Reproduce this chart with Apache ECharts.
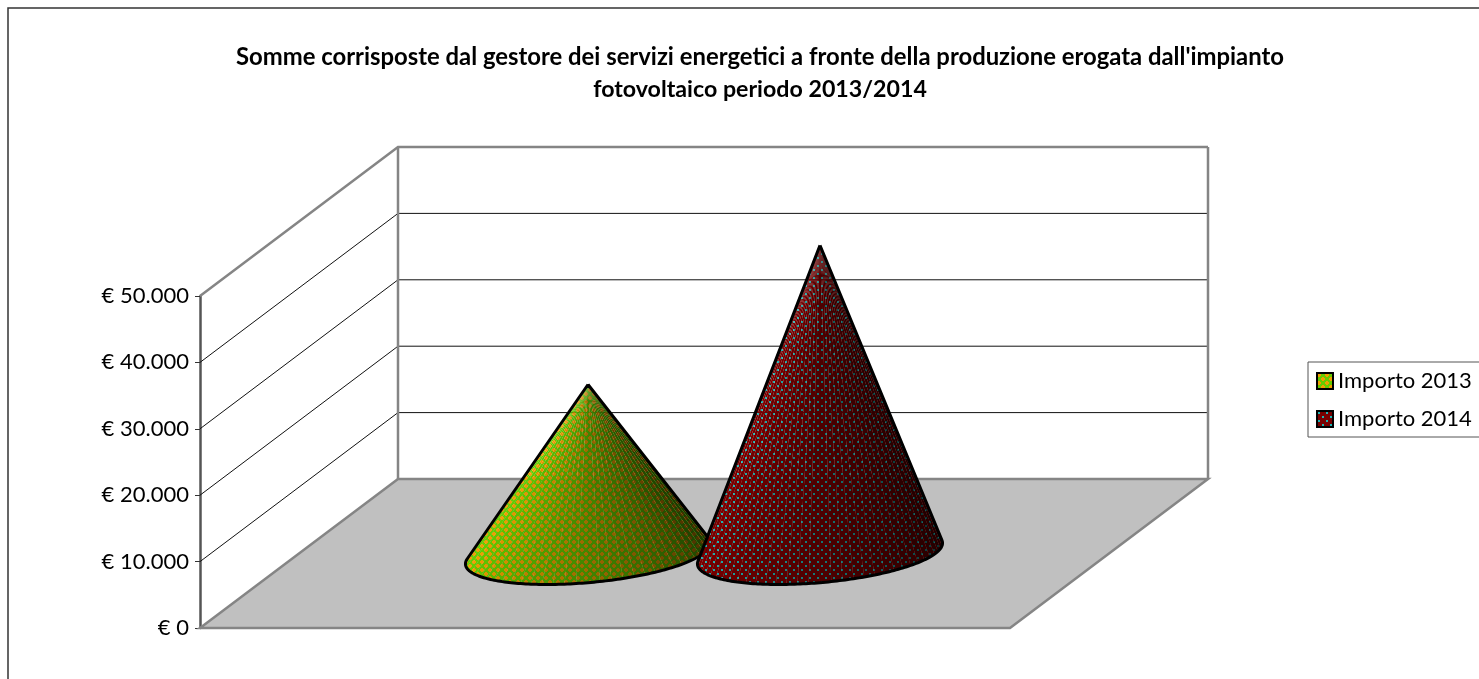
<!DOCTYPE html>
<html>
<head>
<meta charset="utf-8">
<title>Somme corrisposte</title>
<script src="https://cdn.jsdelivr.net/npm/echarts@6/dist/echarts.min.js"></script>
<style>
  html, body { margin: 0; padding: 0; background: #fff; overflow: hidden; }
  #main { width: 1479px; height: 679px; }
</style>
</head>
<body>
<div id="main"></div>
<script>
var titleLines = ["Somme corrisposte dal gestore dei servizi energetici a fronte della produzione erogata dall'impianto", "fotovoltaico periodo 2013/2014"];
var categories = ['Importo'];
var yTicks = [0, 10000, 20000, 30000, 40000, 50000];
var importo2013 = [25450];
var importo2014 = [46400];

var fontName = 'Lato';
// oblique depth of the 3D box, in pixels
var depthX = 198;
var depthY = -149;

function makeTile(bg, fg, kind) {
  var c = document.createElement('canvas');
  c.width = 8;
  c.height = 8;
  var ctx = c.getContext('2d');
  ctx.fillStyle = bg;
  ctx.fillRect(0, 0, 8, 8);
  ctx.fillStyle = fg;
  var spots = [[2, 2], [6, 6]];
  for (var i = 0; i < spots.length; i++) {
    var x = spots[i][0], y = spots[i][1];
    if (kind === 'plus') {
      ctx.fillRect(x - 1, y - 2, 2, 4);
      ctx.fillRect(x - 2, y - 1, 4, 2);
    } else {
      ctx.fillRect(x - 1, y - 1, 2, 2);
    }
  }
  return c;
}
var pattern2013 = { image: makeTile('#66cc00', '#f0a000', 'plus'), repeat: 'repeat' };
var pattern2014 = { image: makeTile('#780000', '#1fb4b4', 'dot'), repeat: 'repeat' };

function renderWalls(params, api) {
  var v = api.value(0);
  var left = api.coord([0, v]);
  var size = api.size([1, 0]);
  var x0 = left[0] - size[0] / 2;
  var y = left[1];
  var children = [];
  var top = v === yTicks[yTicks.length - 1];
  var wallLine = top ? { stroke: '#858585', lineWidth: 2.5 } : { stroke: '#111', lineWidth: 1 };
  if (v === 0) {
    children.push({
      type: 'polygon',
      shape: { points: [[x0, y], [x0 + size[0], y], [x0 + size[0] + depthX, y + depthY], [x0 + depthX, y + depthY]] },
      style: { fill: '#c0c0c0', stroke: '#858585', lineWidth: 2.5 }
    });
  } else {
    children.push({
      type: 'polyline',
      shape: { points: [[x0, y], [x0 + depthX, y + depthY], [x0 + depthX + size[0], y + depthY]] },
      style: { fill: null, stroke: wallLine.stroke, lineWidth: wallLine.lineWidth }
    });
  }
  if (top) {
    var floorY = api.coord([0, 0])[1] + depthY;
    children.push({
      type: 'line',
      shape: { x1: x0 + depthX, y1: y + depthY, x2: x0 + depthX, y2: floorY },
      style: { stroke: '#858585', lineWidth: 2.5 }
    });
    children.push({
      type: 'line',
      shape: { x1: x0 + depthX + size[0], y1: y + depthY, x2: x0 + depthX + size[0], y2: floorY },
      style: { stroke: '#858585', lineWidth: 2.5 }
    });
  }
  return { type: 'group', children: children };
}

function coneRenderer(slot, pattern, maxShade) {
  return function (params, api) {
    var v = api.value(1);
    var band = api.size([1, 0])[0];
    var base = api.coord([0, 0]);
    var peak = api.coord([0, v]);
    // the cones stand half way into the depth of the box
    var cx = base[0] + depthX / 2 + slot * band * 0.1432;
    var cy = base[1] + depthY / 2;
    var ax = cx;
    var ay = peak[1] + depthY / 2;
    var rx = band * 0.1425;
    var rd = 0.208;

    function rim(t) {
      return [cx + rx * Math.cos(t) + rd * depthX * Math.sin(t), cy + rd * depthY * Math.sin(t)];
    }

    // find the two tangent points seen from the apex
    var tL = 0, tR = 0, minA = 9, maxA = -9;
    for (var i = 0; i <= 1440; i++) {
      var t = -1.5 * Math.PI + i / 1440 * 2 * Math.PI;
      var p = rim(t);
      var a = Math.atan2(p[0] - ax, p[1] - ay);
      if (a < minA) { minA = a; tL = t; }
      if (a > maxA) { maxA = a; tR = t; }
    }
    if (tL > tR) { tL -= 2 * Math.PI; }

    var children = [];
    var steps = 36;
    var arc = [];
    for (var s = 0; s <= steps * 4; s++) {
      arc.push(rim(tL + (tR - tL) * s / (steps * 4)));
    }
    for (var k = 0; k < steps; k++) {
      var pts = [[ax, ay]];
      for (var j = 0; j <= 4; j++) {
        pts.push(arc[k * 4 + j]);
      }
      var f = (k + 0.5) / steps;
      var shade = f < 0.12 ? 0 : maxShade * (f - 0.12) / 0.88;
      children.push({ type: 'polygon', shape: { points: pts }, style: { fill: pattern } });
      children.push({ type: 'polygon', shape: { points: pts }, style: { fill: 'rgba(0,0,0,' + shade.toFixed(3) + ')' } });
    }
    var closed = [[ax, ay]].concat(arc).concat([[ax, ay]]);
    children.push({
      type: 'polyline',
      shape: { points: closed },
      style: { fill: null, stroke: '#000', lineWidth: 3, lineJoin: 'round' }
    });
    return { type: 'group', children: children };
  };
}

var chart = echarts.init(document.getElementById('main'), null, { renderer: 'canvas' });

var option = {
  animation: false,
  backgroundColor: '#fff',
  title: [
    { text: titleLines[0], left: 755, top: 40, textAlign: 'center',
      textStyle: { fontFamily: fontName, fontSize: 23.85, fontWeight: 'bold', color: '#000' } },
    { text: titleLines[1], left: 755, top: 73, textAlign: 'center',
      textStyle: { fontFamily: fontName, fontSize: 23.2, fontWeight: 'bold', color: '#000' } }
  ],
  graphic: [{
    type: 'rect',
    silent: true,
    shape: { x: 8, y: 8, width: 1600, height: 900 },
    style: { fill: null, stroke: '#333', lineWidth: 1.5 }
  }],
  legend: {
    orient: 'vertical',
    left: 1308,
    top: 362,
    padding: [8, 14, 7, 8],
    itemWidth: 16,
    itemHeight: 16,
    itemGap: 16,
    borderColor: '#555',
    borderWidth: 1,
    selectedMode: false,
    textStyle: { fontFamily: fontName, fontSize: 22, color: '#000' },
    data: [
      { name: 'Importo 2013', icon: 'rect', itemStyle: { color: pattern2013, borderColor: '#000', borderWidth: 2 } },
      { name: 'Importo 2014', icon: 'rect', itemStyle: { color: pattern2014, borderColor: '#000', borderWidth: 2 } }
    ]
  },
  grid: { left: 200, top: 296, width: 810, height: 332, containLabel: false },
  xAxis: {
    type: 'category',
    data: categories,
    axisLine: { show: false },
    axisTick: { show: false },
    axisLabel: { show: false }
  },
  yAxis: {
    type: 'value',
    min: 0,
    max: 50000,
    interval: 10000,
    splitLine: { show: false },
    axisLine: { show: true, onZero: false, lineStyle: { color: '#555', width: 2.5 } },
    axisTick: { show: true, length: 5, lineStyle: { color: '#333', width: 1 } },
    axisLabel: {
      margin: 11,
      fontFamily: fontName,
      fontSize: 22,
      color: '#000',
      formatter: function (val) {
        return '€ ' + String(val).replace(/\B(?=(\d{3})+$)/g, '.');
      }
    }
  },
  series: [
    {
      name: 'pareti',
      type: 'custom',
      silent: true,
      clip: false,
      z: 1,
      renderItem: renderWalls,
      encode: { y: 0 },
      data: yTicks
    },
    {
      name: 'Importo 2013',
      type: 'custom',
      silent: true,
      clip: false,
      z: 2,
      renderItem: coneRenderer(-1, pattern2013, 0.8),
      encode: { x: 0, y: 1 },
      data: [[0, importo2013[0]]]
    },
    {
      name: 'Importo 2014',
      type: 'custom',
      silent: true,
      clip: false,
      z: 3,
      renderItem: coneRenderer(1, pattern2014, 0.8),
      encode: { x: 0, y: 1 },
      data: [[0, importo2014[0]]]
    }
  ]
};

chart.setOption(option);
</script>
</body>
</html>
